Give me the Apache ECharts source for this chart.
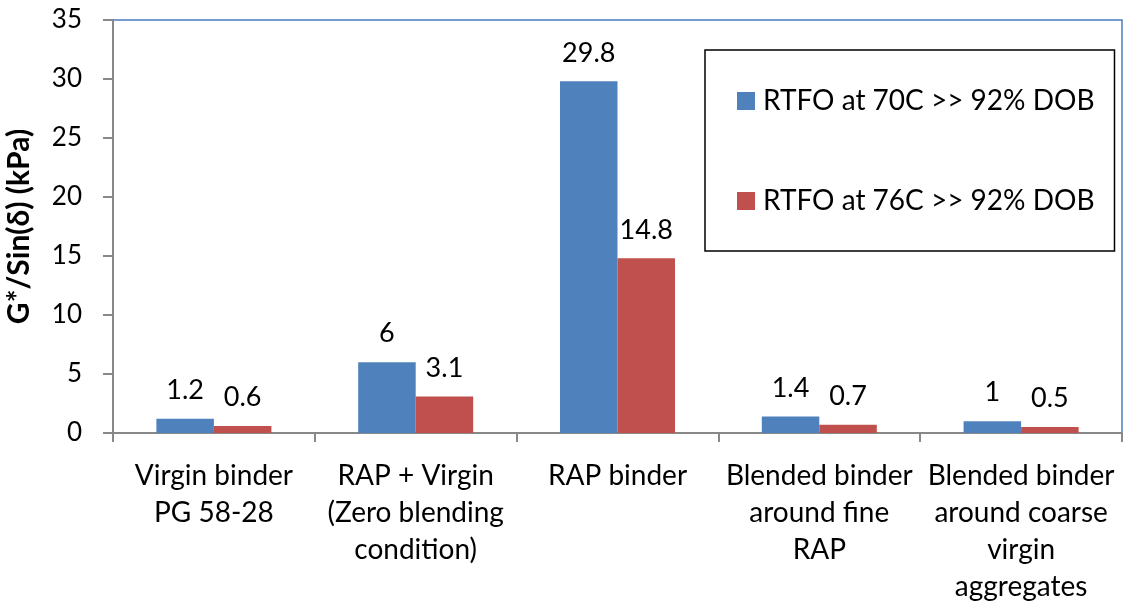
<!DOCTYPE html>
<html>
<head>
<meta charset="utf-8">
<script src="https://cdn.jsdelivr.net/npm/echarts@6/dist/echarts.min.js"></script>
<style>html,body{margin:0;padding:0;background:#fff}#c{width:1128px;height:609px}</style>
</head>
<body>
<div id="c"></div>
<script>
const categories = [
  'Virgin binder\nPG 58-28',
  'RAP + Virgin\n(Zero blending\ncondition)',
  'RAP binder',
  'Blended binder\naround fine\nRAP',
  'Blended binder\naround coarse\nvirgin\naggregates'
];
const seriesNames = ['RTFO at 70C >> 92% DOB', 'RTFO at 76C >> 92% DOB'];
const rtfo70 = [1.2, 6, 29.8, 1.4, 1];
const rtfo76 = [0.6, 3.1, 14.8, 0.7, 0.5];
const yTicks = [0, 5, 10, 15, 20, 25, 30, 35];

const FONT = 'Lato, "Open Sans", sans-serif';
const chart = echarts.init(document.getElementById('c'), null, {renderer: 'canvas'});
const labelStyle = {show: true, position: 'top', distance: 15, color: '#000', fontSize: 27, fontFamily: FONT};
chart.setOption({
  animation: false,
  backgroundColor: '#fff',
  textStyle: {fontFamily: FONT},
  grid: {left: 113, right: 6, top: 20, bottom: 176, show: true, borderColor: '#4a7ebb', borderWidth: 1.5,
         containLabel: false, outerBoundsMode: 'none'},
  legend: {
    orient: 'vertical', left: 705, top: 50, width: 412,
    padding: [37, 20, 36, 32],
    itemGap: 72, itemWidth: 18, itemHeight: 18,
    icon: 'rect',
    borderColor: '#000', borderWidth: 1.5,
    textStyle: {fontSize: 28, lineHeight: 28, color: '#000', fontFamily: FONT, padding: [0, 0, 0, 3]},
    data: seriesNames
  },
  xAxis: {
    type: 'category', data: categories,
    axisLine: {show: true, lineStyle: {color: '#888', width: 2}},
    axisTick: {show: true, length: 9, lineStyle: {color: '#888', width: 2}},
    axisLabel: {interval: 0, color: '#000', fontSize: 28, lineHeight: 37, margin: 24, fontFamily: FONT}
  },
  yAxis: {
    type: 'value', min: 0, max: 35, interval: 5,
    name: 'G*/Sin(δ) (kPa)', nameLocation: 'middle', nameGap: 79,
    nameTextStyle: {fontSize: 30, fontWeight: 'bold', color: '#000', fontFamily: FONT},
    axisLine: {show: true, lineStyle: {color: '#888', width: 2}},
    axisTick: {show: true, inside: false, length: 10, lineStyle: {color: '#888', width: 2}},
    splitLine: {show: false},
    axisLabel: {color: '#000', fontSize: 26, margin: 31, fontFamily: FONT,
      formatter: v => yTicks.includes(v) ? String(v) : ''}
  },
  series: [
    {name: seriesNames[0], type: 'bar', data: rtfo70, barGap: '0%', barCategoryGap: '43%',
     itemStyle: {color: '#4f81bd'}, label: labelStyle},
    {name: seriesNames[1], type: 'bar', data: rtfo76, barGap: '0%', barCategoryGap: '43%',
     itemStyle: {color: '#c0504d'}, label: labelStyle}
  ]
});
</script>
</body>
</html>
